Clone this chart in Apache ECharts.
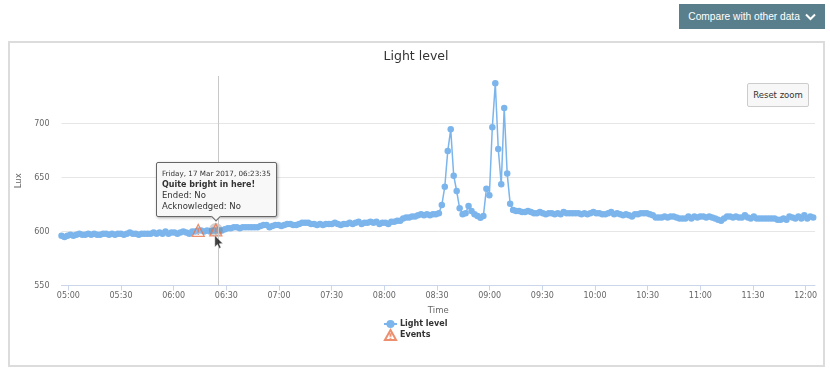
<!DOCTYPE html>
<html>
<head>
<meta charset="utf-8">
<title>Light level</title>
<script src="https://cdn.jsdelivr.net/npm/echarts@6/dist/echarts.min.js"></script>
<style>
  html, body { margin: 0; padding: 0; background: #fff; }
  body { width: 830px; height: 371px; overflow: hidden; position: relative; font-family: "DejaVu Sans", sans-serif; }
  #frame { position: absolute; left: 8px; top: 41px; width: 813px; height: 322px; border: 2px solid #dcdcdc; }
  #chart { position: absolute; left: 0; top: 0; width: 830px; height: 371px; }
  #compare { position: absolute; left: 679px; top: 4px; width: 146px; height: 25px; background: #5a7f8c; color: #fff;
    font: 10.2px/25px "Liberation Sans", sans-serif; text-align: center; }
  #compare svg { vertical-align: -1px; margin-left: 2px; }
  #reset { position: absolute; left: 747px; top: 83px; width: 60px; height: 22px; background: #f7f7f7; border: 1px solid #ccc;
    border-radius: 2px; color: #333; font-size: 8.5px; line-height: 22px; text-align: center; }
</style>
</head>
<body>
<div id="frame"></div>
<div id="chart"></div>
<div id="compare">Compare with other data <svg width="11" height="8" viewBox="0 0 11 8"><polyline points="1,1.5 5.5,6 10,1.5" fill="none" stroke="#fff" stroke-width="2"/></svg></div>
<div id="reset">Reset zoom</div>
<script>
const startTime = Date.UTC(2017, 2, 17, 4, 56, 6);
const stepMs = 101550;
const endTime = startTime + 253.6 * stepMs;

const tickLabels = ['05:00', '05:30', '06:00', '06:30', '07:00', '07:30', '08:00', '08:30',
  '09:00', '09:30', '10:00', '10:30', '11:00', '11:30', '12:00'];

const lightLevel = [
  596, 595, 596, 597, 596, 597, 598, 597, 597, 598, 597, 598, 597, 597, 598, 598, 597, 598, 597, 598,
  598, 597, 598, 599, 598, 598, 597, 598, 598, 598, 598, 599, 598, 599, 598, 600, 598, 599,
  599, 598, 599, 600, 599, 598, 600, 600, 601, 601, 600, 601, 600, 601, 601, 601, 601,
  602, 603, 603, 604, 604, 603, 604, 604, 604, 604, 604, 604, 605, 606, 606, 604, 605, 606,
  606, 605, 606, 607, 607, 606, 606, 607, 608, 608, 608, 607, 607, 606, 607, 606, 607, 607,
  607, 608, 607, 606, 607, 607, 608, 607, 608, 609, 607, 608, 608, 609, 608, 609, 607, 608,
  608, 607, 609, 609, 610, 610, 612, 613, 613, 614, 614, 615, 616, 615, 616, 615, 616, 616, 617,
  624.5, 641.5, 674.5, 694.6, 651.7, 637.5, 621.5, 616, 617, 623.6, 619, 616, 614.4, 612.8, 614.4,
  639.6, 633.5, 696.5, 737.2, 676.4, 643.7, 714.4, 653.6, 625.8, 620,
  619, 619, 618, 618, 619, 618, 617, 617, 618, 617,
  616, 617, 617, 616, 617, 616, 618, 617, 617, 617,
  617, 617, 616, 617, 616, 617, 618, 617, 617, 616,
  616, 617, 618, 616, 617, 616, 615, 616, 615, 614,
  616, 616, 617, 617, 617, 616, 615, 613, 613, 613,
  614, 613, 614, 614, 613, 612, 612, 612, 614, 612,
  614, 613, 614, 614, 613, 614, 613, 612, 611, 610,
  612, 614, 614, 613, 614, 613, 613, 615, 613, 612,
  614, 612, 612, 612, 612, 612, 612, 612, 611, 611,
  612, 611, 614, 613, 612, 614, 612, 615, 612, 614, 613
];

const eventTimes = [Date.UTC(2017, 2, 17, 6, 14, 0), Date.UTC(2017, 2, 17, 6, 24, 0)];
const eventValues = [601, 601.5];
const crosshairTime = Date.UTC(2017, 2, 17, 6, 25, 20);

const lineColor = '#7cb5ec';
const eventColor = '#e8734a';
const fontName = 'DejaVu Sans';
const warnIcon = 'path://M6 0.8 L11.6 10.8 L0.4 10.8 Z M6 4 L6 7.6 M6 8.6 L6 9.6';
const cursorIcon = 'path://M0 0 L0 11 L2.6 8.6 L4.4 12.4 L6 11.6 L4.3 8 L7.8 7.8 Z';

const lineData = lightLevel.map((v, i) => [startTime + i * stepMs, v]);
const eventData = eventTimes.map((t, i) => [t, eventValues[i]]);
const tickTimes = tickLabels.map(label => {
  const parts = label.split(':');
  return Date.UTC(2017, 2, 17, Number(parts[0]), Number(parts[1]));
});

const myChart = echarts.init(document.getElementById('chart'));

myChart.setOption({
  animation: false,
  title: {
    text: 'Light level',
    left: 411,
    top: 45,
    textAlign: 'center',
    textStyle: { fontFamily: fontName, fontSize: 12.5, fontWeight: 'normal', color: '#333' },
  },
  grid: { left: 61.5, right: 15, top: 76, bottom: 85.5 },
  legend: {
    orient: 'vertical',
    left: 378,
    top: 315,
    itemGap: 1,
    itemWidth: 13,
    itemHeight: 10,
    data: ['Light level', 'Events'],
    textStyle: { fontFamily: fontName, fontSize: 8, fontWeight: 'bold', color: '#333', padding: [0, 0, 0, -2] },
  },
  tooltip: {
    trigger: 'item',
    position: 'top',
    alwaysShowContent: true,
    transitionDuration: 0,
    backgroundColor: '#f8f8f8',
    borderColor: '#666',
    borderWidth: 1,
    padding: [5, 5, 4, 5],
    extraCssText: 'border-radius:2px;box-shadow:1px 1px 3px rgba(0,0,0,.35);margin-top:4px;margin-left:1px;',
    formatter: () =>
      '<div style="font:7.2px/11px \'DejaVu Sans\';color:#333;white-space:nowrap">Friday, 17 Mar 2017, 06:23:35<br>' +
      '<b style="font-size:8px">Quite bright in here!</b><br>' +
      '<span style="font-size:8.5px">Ended: No<br>Acknowledged: No</span></div>',
  },
  xAxis: {
    type: 'value',
    min: startTime,
    max: endTime,
    name: 'Time',
    nameLocation: 'middle',
    nameGap: 21,
    nameTextStyle: { fontFamily: fontName, fontSize: 8.5, color: '#666' },
    axisLine: { lineStyle: { color: '#ccd6eb' } },
    axisTick: { length: 5, customValues: tickTimes, lineStyle: { color: '#ccd6eb' } },
    axisLabel: {
      customValues: tickTimes,
      formatter: value => tickLabels[tickTimes.indexOf(value)],
      fontFamily: fontName,
      fontSize: 8,
      color: '#666',
      margin: 6,
      hideOverlap: false,
    },
    splitLine: { show: false },
  },
  yAxis: {
    type: 'value',
    min: 550,
    max: 744,
    interval: 50,
    name: 'Lux',
    nameLocation: 'middle',
    nameGap: 31,
    nameTextStyle: { fontFamily: fontName, fontSize: 8.5, color: '#666' },
    axisLine: { show: false },
    axisTick: { show: false },
    axisLabel: { fontFamily: fontName, fontSize: 8, color: '#666', margin: 12, showMaxLabel: false },
    splitLine: { showMaxLine: false, lineStyle: { color: '#e6e6e6' } },
  },
  series: [
    {
      name: 'Light level',
      type: 'line',
      data: lineData,
      clip: false,
      symbol: 'circle',
      symbolSize: 6.5,
      showAllSymbol: true,
      lineStyle: { color: lineColor, width: 1.5 },
      itemStyle: { color: lineColor },
      silent: true,
      markLine: {
        silent: true,
        symbol: 'none',
        label: { show: false },
        lineStyle: { color: '#c8c8c8', width: 1, type: 'solid' },
        data: [{ xAxis: crosshairTime }],
      },
    },
    {
      name: 'halo',
      type: 'scatter',
      data: eventData.slice(1),
      symbolSize: 14,
      itemStyle: { color: 'rgba(110,110,110,0.4)' },
      silent: true,
      tooltip: { show: false },
      z: 3,
    },
    {
      name: 'Events',
      type: 'scatter',
      data: eventData,
      symbol: warnIcon,
      symbolSize: 12,
      itemStyle: { color: 'rgba(255,255,255,0.15)', borderColor: eventColor, borderWidth: 1.3 },
      z: 4,
    },
    {
      name: 'cursor',
      type: 'scatter',
      data: eventData.slice(1),
      symbol: cursorIcon,
      symbolSize: [8, 13],
      symbolOffset: [3, 12],
      itemStyle: { color: '#111', borderColor: '#fff', borderWidth: 0.5 },
      silent: true,
      tooltip: { show: false },
      z: 5,
    },
  ],
});

myChart.dispatchAction({ type: 'showTip', seriesIndex: 2, dataIndex: 1 });
</script>
</body>
</html>
